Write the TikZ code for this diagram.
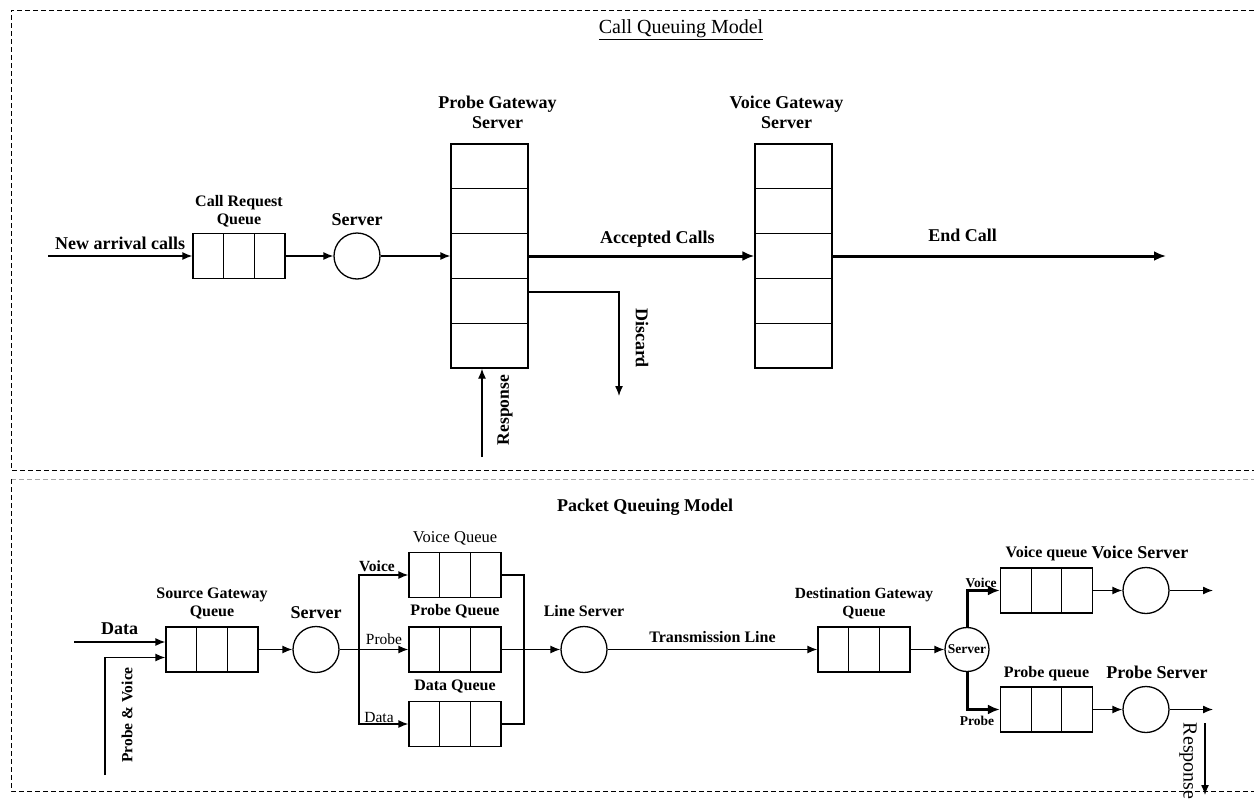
\documentclass[tikz,border=0pt]{standalone}
\usepackage{fontspec}
\setmainfont{Liberation Serif}
\usetikzlibrary{arrows.meta,positioning,calc}

\begin{document}
\begin{tikzpicture}[
  x=1pt, y=-1pt, line width=1.3pt,
  queue/.style={draw, minimum width=92pt, minimum height=45pt, inner sep=0pt,
    path picture={\foreach \f in {1,2}
      \draw ($(path picture bounding box.south west)!\f/3!(path picture bounding box.south east)$) -- ++(0pt,45pt);}},
  stack/.style={draw, minimum width=77pt, minimum height=224pt, inner sep=0pt,
    path picture={\foreach \f in {1,...,4}
      \draw ($(path picture bounding box.north west)!\f/5!(path picture bounding box.south west)$) -- ++(77pt,0pt);}},
  srv/.style={draw, circle, minimum size=46pt, inner sep=0pt},
  lbl/.style={font=\fontsize{18}{20}\selectfont\bfseries, align=center},
  sublbl/.style={font=\fontsize{16}{18}\selectfont\bfseries, align=center},
  smalllbl/.style={font=\fontsize{13.5}{15}\selectfont\bfseries, inner sep=1pt},
  plainlbl/.style={font=\fontsize{15.5}{18}\selectfont},
  arr/.style={-{Latex[length=10pt,width=8pt]}},
  fatarr/.style={-{Latex[length=12pt,width=10pt]}, line width=3pt},
  dashframe/.style={dash pattern=on 5pt off 3pt, line width=1pt}
]
\useasboundingbox (0,0) rectangle (1254,806);

\draw[dashframe] (1254,10) -- (11,10) -- (11,470) -- (1254,470);
\draw[dashframe, black!35] (11,479) -- (1254,479);
\draw[dashframe] (11,479) -- (11,791) -- (1254,791);

\node[font=\fontsize{20}{22}\selectfont, anchor=base] (calltitle) at (681,33) {\underline{Call Queuing Model}};

\node[queue] (callq) at (239,256) {};
\node[sublbl, above=2pt of callq] (callqlbl) {Call Request\\Queue};
\node[srv] (srv1) at (357,256) {};
\node[lbl, above=3pt of srv1] (srv1lbl) {Server};
\node[stack] (probegw) at (489.5,256) {};
\node[lbl, above=11pt of probegw, xshift=8pt] (probegwlbl) {Probe Gateway\\Server};
\node[stack] (voicegw) at (793.5,256) {};
\node[lbl, above=11pt of voicegw, xshift=-7pt] (voicegwlbl) {Voice Gateway\\Server};

\coordinate (newin) at (48,256);
\coordinate (endout) at (1166,256);
\coordinate (discard) at (619,396);
\coordinate (respin) at (482,457);

\draw[arr] (newin) -- node[lbl, above=2pt] {New arrival calls} (callq);
\draw[arr] (callq) -- (srv1);
\draw[arr] (srv1) -- (probegw);
\draw[fatarr] (probegw) -- node[lbl, above=4pt, pos=0.57] {Accepted Calls} (voicegw);
\draw[fatarr] (voicegw) -- node[lbl, above=9pt, pos=0.39] {End Call} (endout);
\draw[arr] ([yshift=-36pt]probegw.east) -| (discard);
\node[lbl, rotate=-90] (discardlbl) at (642,338) {Discard};
\draw[arr] (respin) -- (respin |- probegw.south);
\node[lbl, font=\fontsize{17.5}{20}\selectfont\bfseries, rotate=90] (resplbl) at (505,410) {Response};

\node[lbl, anchor=base] (packettitle) at (645,511) {Packet Queuing Model};

\node[queue] (srcq) at (212,649.5) {};
\node[sublbl, above=3pt of srcq] (srcqlbl) {Source Gateway\\Queue};
\node[srv] (srv2) at (316,649.5) {};
\node[lbl, above=3pt of srv2] (srv2lbl) {Server};
\node[queue] (vq) at (455,575) {};
\node[plainlbl, font=\fontsize{16.5}{18}\selectfont, above=3pt of vq] (vqlbl) {Voice Queue};
\node[queue] (pq) at (455,649.5) {};
\node[sublbl, above=4pt of pq] (pqlbl) {Probe Queue};
\node[queue] (dq) at (455,724) {};
\node[sublbl, above=4pt of dq] (dqlbl) {Data Queue};
\node[srv] (linesrv) at (584,649.5) {};
\node[sublbl, above=5pt of linesrv] (linesrvlbl) {Line Server};
\node[queue] (dgq) at (864,649.5) {};
\node[sublbl, font=\fontsize{15.5}{18}\selectfont\bfseries, above=3pt of dgq] (dgqlbl) {Destination Gateway\\Queue};
\node[srv, minimum size=44pt, font=\fontsize{13.5}{15}\selectfont\bfseries] (srv3) at (967,649.5) {Server};
\node[queue] (vq2) at (1046.5,590.5) {};
\node[sublbl, above=2pt of vq2] (vq2lbl) {Voice queue};
\node[queue] (pq2) at (1046.5,709.5) {};
\node[sublbl, above=1pt of pq2] (pq2lbl) {Probe queue};
\node[srv] (vsrv) at (1146,590.5) {};
\node[lbl, above=4pt of vsrv, xshift=-6pt] (vsrvlbl) {Voice Server};
\node[srv] (psrv) at (1146,709.5) {};
\node[lbl, above=3pt of psrv, xshift=11pt] (psrvlbl) {Probe Server};

\coordinate (datain) at (74,642);
\coordinate (pvin) at (105,775);
\coordinate (fork) at (359,649.5);
\coordinate (join) at (524,649.5);
\coordinate (vout) at (1213,590.5);
\coordinate (pout) at (1213,709.5);
\coordinate (respfrom) at (1205,723);
\coordinate (respto) at (1205,795);

\draw[arr] (datain) -- node[lbl, above=3pt] {Data} (datain -| srcq.west);
\draw[arr] (pvin) |- ([yshift=-8pt]srcq.west);
\node[sublbl, font=\fontsize{15.5}{18}\selectfont\bfseries, rotate=90] (pvlbl) at (127,715) {Probe \& Voice};
\draw[arr] (srcq) -- (srv2);
\draw[arr] (srv2) -- (pq);
\draw[arr] (fork) |- (vq);
\draw[arr] (fork) |- (dq);
\node[sublbl, font=\fontsize{15.5}{18}\selectfont\bfseries, anchor=base] (voicebr) at (377,571) {Voice};
\node[plainlbl, anchor=base] (probebr) at (384,644) {Probe};
\node[plainlbl, anchor=base] (databr) at (379,722) {Data};
\draw (vq) -| (join);
\draw (dq) -| (join);
\draw[arr] (pq) -- (linesrv);
\draw[arr] (linesrv) -- node[sublbl, above=3pt] {Transmission Line} (dgq);
\draw[arr] (dgq) -- (srv3);
\draw[fatarr] (srv3) |- (vq2);
\draw[fatarr] (srv3) |- (pq2);
\node[smalllbl, anchor=base] (voicebr2) at (981,587) {Voice};
\node[smalllbl, anchor=base] (probebr2) at (977,725) {Probe};
\draw[arr] (vq2) -- (vsrv);
\draw[arr] (vsrv) -- (vout);
\draw[arr] (pq2) -- (psrv);
\draw[arr] (psrv) -- (pout);
\draw[arr] (respfrom) -- (respto);
\node[font=\fontsize{20}{22}\selectfont, rotate=-90, anchor=west] (resplbl2) at (1188,719) {Response};
\end{tikzpicture}
\end{document}
